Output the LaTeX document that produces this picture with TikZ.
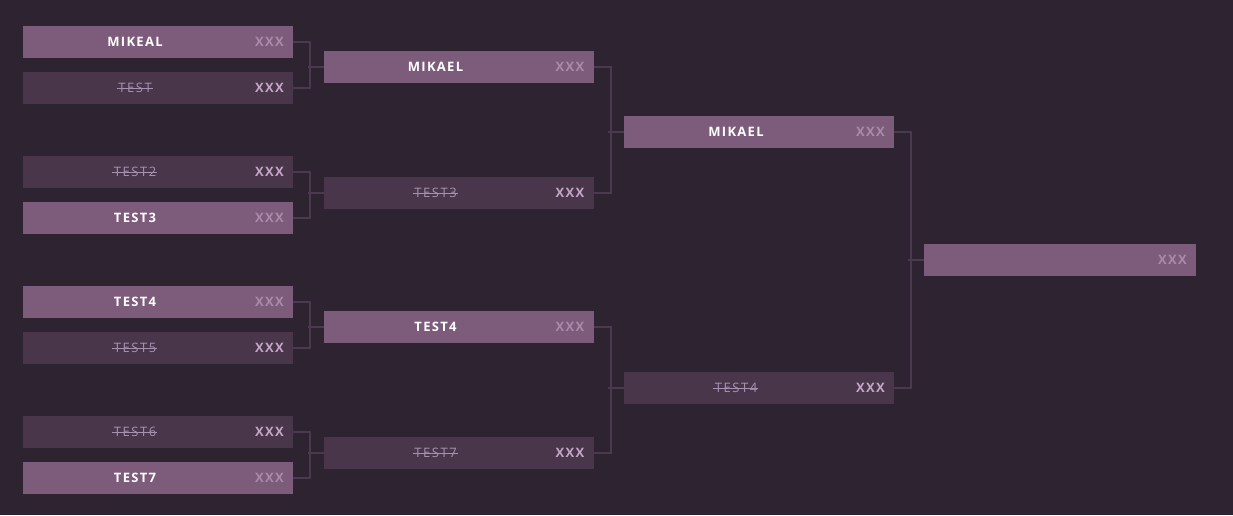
\documentclass[tikz,border=0pt]{standalone}
\usepackage{fontspec}
\setmainfont{Open Sans}
\definecolor{bg}{HTML}{2E2330}
\definecolor{winc}{HTML}{7D5C7B}
\definecolor{losec}{HTML}{49364B}
\definecolor{connc}{HTML}{4B3A4F}
\definecolor{scorew}{HTML}{A98AAB}
\definecolor{scorel}{HTML}{C4A6C6}
\definecolor{strk}{HTML}{A890B0}
\tikzset{
  box/.style={minimum width=270pt, minimum height=32pt, inner sep=0pt, outer sep=0pt, draw=none},
  win/.style={box, fill=winc},
  lose/.style={box, fill=losec},
  txt/.style={font=\bfseries\fontsize{13}{15}\selectfont\addfontfeature{LetterSpace=10}, inner sep=0pt},
  nmw/.style={txt, text=white},
  nml/.style={font=\mdseries\fontsize{13}{15}\selectfont\addfontfeature{LetterSpace=12}, inner sep=0pt, text=strk},
  scw/.style={txt, text=scorew, anchor=east},
  scl/.style={txt, text=scorel, anchor=east},
  strike/.style={draw=strk, line width=0.9pt},
  conn/.style={draw=connc, line width=2pt},
}
\newcommand\slotw[4]{%
  \node[win] (#1) at (#2,#3) {};
  \node[nmw] (#1n) at ([xshift=112pt]#1.west) {#4};
  \node[scw] (#1s) at ([xshift=-9pt]#1.east) {XXX};}
\newcommand\slotl[4]{%
  \node[lose] (#1) at (#2,#3) {};
  \node[nml] (#1n) at ([xshift=112pt]#1.west) {#4};
  \draw[strike] ([xshift=-1.5pt]#1n.west) -- ([xshift=1pt]#1n.east);
  \node[scl] (#1s) at ([xshift=-9pt]#1.east) {XXX};}
\begin{document}
\begin{tikzpicture}[x=1pt,y=-1pt]
\fill[bg] (0,0) rectangle (1233,515);
\useasboundingbox (0,0) rectangle (1233,515);
% round 1
\slotw{a1}{158}{42}{MIKEAL}
\slotl{a2}{158}{88}{TEST}
\slotl{a3}{158}{172}{TEST2}
\slotw{a4}{158}{218}{TEST3}
\slotw{a5}{158}{302}{TEST4}
\slotl{a6}{158}{348}{TEST5}
\slotl{a7}{158}{432}{TEST6}
\slotw{a8}{158}{478}{TEST7}
% round 2
\slotw{b1}{458.5}{67}{MIKAEL}
\slotl{b2}{458.5}{193}{TEST3}
\slotw{b3}{458.5}{327}{TEST4}
\slotl{b4}{458.5}{453}{TEST7}
% round 3
\slotw{c1}{759}{132}{MIKAEL}
\slotl{c2}{759}{388}{TEST4}
% final
\node[win, minimum width=272pt] (d1) at (1060,260) {};
\node[scw] (d1s) at ([xshift=-9pt]d1.east) {XXX};
% connectors
\draw[conn] (a1.east) -- ++(17,0) |- (a2.east);
\draw[conn] (a3.east) -- ++(17,0) |- (a4.east);
\draw[conn] (a5.east) -- ++(17,0) |- (a6.east);
\draw[conn] (a7.east) -- ++(17,0) |- (a8.east);
\draw[conn] ([xshift=-16pt]b1.west) -- (b1.west);
\draw[conn] ([xshift=-16pt]b2.west) -- (b2.west);
\draw[conn] ([xshift=-16pt]b3.west) -- (b3.west);
\draw[conn] ([xshift=-16pt]b4.west) -- (b4.west);
\draw[conn] (b1.east) -- ++(17,0) |- (b2.east);
\draw[conn] (b3.east) -- ++(17,0) |- (b4.east);
\draw[conn] ([xshift=-16pt]c1.west) -- (c1.west);
\draw[conn] ([xshift=-16pt]c2.west) -- (c2.west);
\draw[conn] (c1.east) -- ++(17,0) |- (c2.east);
\draw[conn] ([xshift=-16pt]d1.west) -- (d1.west);
\end{tikzpicture}
\end{document}
